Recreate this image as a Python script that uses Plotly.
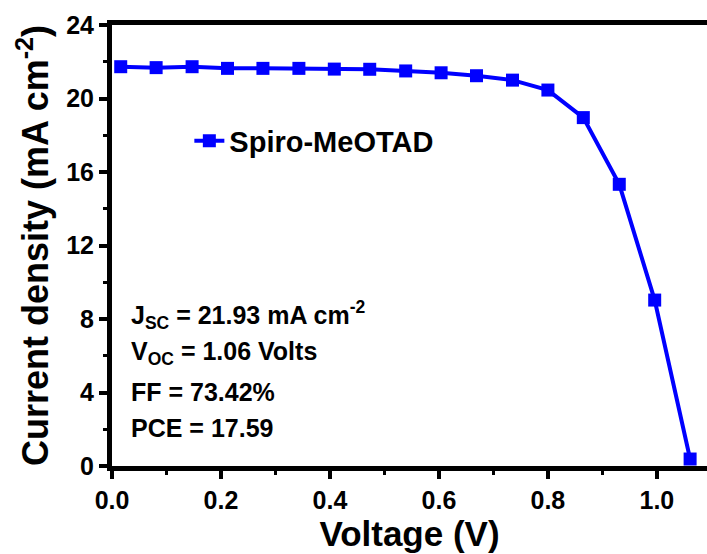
import plotly.graph_objects as go

# Data
voltage = [0.016, 0.081, 0.147, 0.212, 0.277, 0.343, 0.408, 0.473, 0.539,
           0.604, 0.669, 0.735, 0.800, 0.865, 0.931, 0.996, 1.061]
current = [21.73, 21.68, 21.73, 21.64, 21.64, 21.64, 21.60, 21.59, 21.50,
           21.40, 21.24, 21.00, 20.46, 18.96, 15.33, 9.03, 0.38]
series_name = "Spiro-MeOTAD"
x_ticks = [0.0, 0.2, 0.4, 0.6, 0.8, 1.0]
x_tick_labels = ["0.0", "0.2", "0.4", "0.6", "0.8", "1.0"]
y_ticks = [0, 4, 8, 12, 16, 20, 24]
y_tick_labels = ["0", "4", "8", "12", "16", "20", "24"]
info_lines = [
    "J<sub>SC</sub> = 21.93 mA cm<sup>-2</sup>",
    "V<sub>OC</sub> = 1.06 Volts",
    "FF = 73.42%",
    "PCE = 17.59",
]

FONT = "Liberation Sans, Arial, sans-serif"
BLUE = "#0000FF"

fig = go.Figure()
fig.add_trace(go.Scatter(
    x=voltage, y=current, mode="lines+markers", name="<b>" + series_name + "</b>",
    line=dict(color=BLUE, width=4),
    marker=dict(symbol="square", size=13, color=BLUE),
))

info_y = [0.342, 0.256, 0.168, 0.086]
annotations = []
for txt, yy in zip(info_lines, info_y):
    annotations.append(dict(
        text="<b>" + txt + "</b>", xref="paper", yref="paper",
        x=0.028, y=yy, xanchor="left", yanchor="middle", showarrow=False,
        font=dict(family=FONT, size=25, color="black"),
    ))

fig.update_layout(
    width=707, height=554,
    margin=dict(l=112, r=0, t=25, b=88),
    paper_bgcolor="white", plot_bgcolor="white",
    showlegend=True,
    legend=dict(x=0.13, y=0.737, xanchor="left", yanchor="middle",
                bgcolor="rgba(0,0,0,0)",
                font=dict(family=FONT, size=29, color="black")),
    annotations=annotations,
    font=dict(family=FONT, color="black"),
)

fig.update_xaxes(
    range=[0, 1.092], tickvals=x_ticks,
    ticktext=["<b>" + t + "</b>" for t in x_tick_labels],
    showline=True, linecolor="black", linewidth=5, mirror=True,
    ticks="outside", ticklen=8, tickwidth=4, tickcolor="black",
    minor=dict(ticks="outside", ticklen=4, tickwidth=3, dtick=0.1, tickcolor="black"),
    showgrid=False, zeroline=False,
    tickfont=dict(family=FONT, size=25, color="black"),
    title=dict(text="<b>Voltage (V)</b>", standoff=10,
               font=dict(family=FONT, size=35, color="black")),
    automargin=False,
)
fig.update_yaxes(
    range=[0, 24], tickvals=y_ticks,
    ticktext=["<b>" + t + "</b>" for t in y_tick_labels],
    showline=True, linecolor="black", linewidth=5, mirror=False,
    ticks="outside", ticklen=8, tickwidth=4, tickcolor="black",
    minor=dict(ticks="outside", ticklen=4, tickwidth=3, dtick=2, tickcolor="black"),
    showgrid=False, zeroline=False,
    tickfont=dict(family=FONT, size=25, color="black"),
    title=dict(text="<b>Current density (mA cm<sup>-2</sup>)</b>", standoff=8,
               font=dict(family=FONT, size=36, color="black")),
    automargin=False,
)

fig.write_html("out.html")
